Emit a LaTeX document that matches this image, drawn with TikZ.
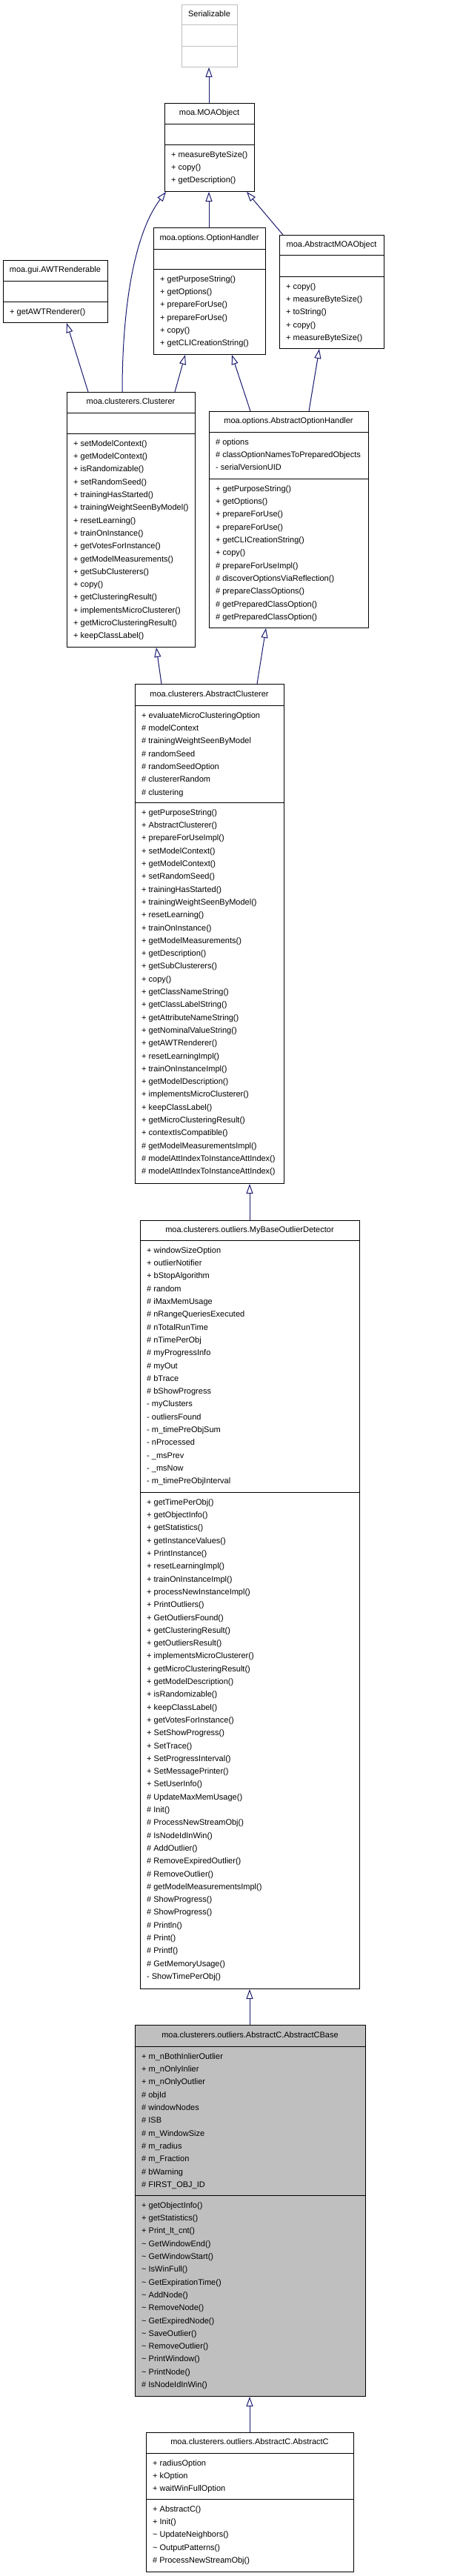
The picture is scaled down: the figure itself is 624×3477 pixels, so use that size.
\documentclass[tikz,border=0pt]{standalone}
\usepackage{fontspec}
\setmainfont{Liberation Sans}
\usetikzlibrary{arrows.meta}
\definecolor{arrowblue}{HTML}{191970}
\definecolor{sergray}{HTML}{BFBFBF}
\definecolor{cbasegray}{HTML}{BFBFBF}
\tikzset{
  classbox/.style={draw=black, line width=1pt, inner sep=0pt, fill=white},
  titletext/.style={font=\fontsize{11}{13}\selectfont, inner sep=0pt, text height=8pt, text depth=2.5pt},
  listtext/.style={font=\fontsize{11}{17.3}\selectfont, inner sep=0pt, align=left, anchor=north west},
  inh/.style={draw=arrowblue, line width=1pt, -{Triangle[open, fill=white, length=13pt, width=9pt]}},
}
\newcommand\umlclass[9]{%
  \node[classbox,#8,minimum width={(#4-#2)*1pt},minimum height={(#5-#3)*1pt},anchor=north west] (#1) at (#2,#3) {};
  \draw[line width=1pt,#8,fill=none] (#2,#6) -- (#4,#6) (#2,#7) -- (#4,#7);
  \node[titletext] at ({(#2+#4)/2},{(#3+#6)/2}) {#9};
}
\newcommand\umllist[3]{\node[listtext] at ({#1+9},{#2+5}) {\strut #3};}
\begin{document}
\begin{tikzpicture}[x=1pt,y=-1pt]
\useasboundingbox (0,0) rectangle (624,3477);

\umlclass{serial}{245}{6}{320}{90}{33}{62}{draw=sergray}{Serializable}

\umlclass{moaobj}{222}{139}{343}{258}{167}{195}{}{moa.MOAObject}
\umllist{222}{195}{+ measureByteSize()\\+ copy()\\+ getDescription()}

\umlclass{opthandler}{207}{307}{358}{478}{336}{363}{}{moa.options.OptionHandler}
\umllist{207}{363}{+ getPurposeString()\\+ getOptions()\\+ prepareForUse()\\+ prepareForUse()\\+ copy()\\+ getCLICreationString()}

\umlclass{absmoa}{377}{317}{518}{470}{344}{373}{}{moa.AbstractMOAObject}
\umllist{377}{373}{+ copy()\\+ measureByteSize()\\+ toString()\\+ copy()\\+ measureByteSize()}

\umlclass{awt}{4}{351}{145}{435}{379}{407}{}{moa.gui.AWTRenderable}
\umllist{4}{407}{+ getAWTRenderer()}

\umlclass{clusterer}{90}{529}{263}{873}{557}{585}{}{moa.clusterers.Clusterer}
\umllist{90}{585}{+ setModelContext()\\+ getModelContext()\\+ isRandomizable()\\+ setRandomSeed()\\+ trainingHasStarted()\\+ trainingWeightSeenByModel()\\+ resetLearning()\\+ trainOnInstance()\\+ getVotesForInstance()\\+ getModelMeasurements()\\+ getSubClusterers()\\+ copy()\\+ getClusteringResult()\\+ implementsMicroClusterer()\\+ getMicroClusteringResult()\\+ keepClassLabel()}

\umlclass{aoh}{282}{555}{497}{847}{583}{646}{}{moa.options.AbstractOptionHandler}
\umllist{282}{583}{\# options\\\# classOptionNamesToPreparedObjects\\- serialVersionUID}
\umllist{282}{646}{+ getPurposeString()\\+ getOptions()\\+ prepareForUse()\\+ prepareForUse()\\+ getCLICreationString()\\+ copy()\\\# prepareForUseImpl()\\\# discoverOptionsViaReflection()\\\# prepareClassOptions()\\\# getPreparedClassOption()\\\# getPreparedClassOption()}

\umlclass{absclus}{182}{923}{383}{1597}{952}{1083}{}{moa.clusterers.AbstractClusterer}
\umllist{182}{952}{+ evaluateMicroClusteringOption\\\# modelContext\\\# trainingWeightSeenByModel\\\# randomSeed\\\# randomSeedOption\\\# clustererRandom\\\# clustering}
\umllist{182}{1083}{+ getPurposeString()\\+ AbstractClusterer()\\+ prepareForUseImpl()\\+ setModelContext()\\+ getModelContext()\\+ setRandomSeed()\\+ trainingHasStarted()\\+ trainingWeightSeenByModel()\\+ resetLearning()\\+ trainOnInstance()\\+ getModelMeasurements()\\+ getDescription()\\+ getSubClusterers()\\+ copy()\\+ getClassNameString()\\+ getClassLabelString()\\+ getAttributeNameString()\\+ getNominalValueString()\\+ getAWTRenderer()\\+ resetLearningImpl()\\+ trainOnInstanceImpl()\\+ getModelDescription()\\+ implementsMicroClusterer()\\+ keepClassLabel()\\+ getMicroClusteringResult()\\+ contextIsCompatible()\\\# getModelMeasurementsImpl()\\\# modelAttIndexToInstanceAttIndex()\\\# modelAttIndexToInstanceAttIndex()}

\umlclass{mybase}{189}{1647}{485}{2684}{1674}{2014}{}{moa.clusterers.outliers.MyBaseOutlierDetector}
\umllist{189}{1674}{+ windowSizeOption\\+ outlierNotifier\\+ bStopAlgorithm\\\# random\\\# iMaxMemUsage\\\# nRangeQueriesExecuted\\\# nTotalRunTime\\\# nTimePerObj\\\# myProgressInfo\\\# myOut\\\# bTrace\\\# bShowProgress\\- myClusters\\- outliersFound\\- m\_timePreObjSum\\- nProcessed\\- \_msPrev\\- \_msNow\\- m\_timePreObjInterval}
\umllist{189}{2014}{+ getTimePerObj()\\+ getObjectInfo()\\+ getStatistics()\\+ getInstanceValues()\\+ PrintInstance()\\+ resetLearningImpl()\\+ trainOnInstanceImpl()\\+ processNewInstanceImpl()\\+ PrintOutliers()\\+ GetOutliersFound()\\+ getClusteringResult()\\+ getOutliersResult()\\+ implementsMicroClusterer()\\+ getMicroClusteringResult()\\+ getModelDescription()\\+ isRandomizable()\\+ keepClassLabel()\\+ getVotesForInstance()\\+ SetShowProgress()\\+ SetTrace()\\+ SetProgressInterval()\\+ SetMessagePrinter()\\+ SetUserInfo()\\\# UpdateMaxMemUsage()\\\# Init()\\\# ProcessNewStreamObj()\\\# IsNodeIdInWin()\\\# AddOutlier()\\\# RemoveExpiredOutlier()\\\# RemoveOutlier()\\\# getModelMeasurementsImpl()\\\# ShowProgress()\\\# ShowProgress()\\\# Println()\\\# Print()\\\# Printf()\\\# GetMemoryUsage()\\- ShowTimePerObj()}

\umlclass{cbase}{182}{2733}{493}{3234}{2762}{2963}{fill=cbasegray}{moa.clusterers.outliers.AbstractC.AbstractCBase}
\umllist{182}{2762}{+ m\_nBothInlierOutlier\\+ m\_nOnlyInlier\\+ m\_nOnlyOutlier\\\# objId\\\# windowNodes\\\# ISB\\\# m\_WindowSize\\\# m\_radius\\\# m\_Fraction\\\# bWarning\\\# FIRST\_OBJ\_ID}
\umllist{182}{2963}{+ getObjectInfo()\\+ getStatistics()\\+ Print\_lt\_cnt()\\\textasciitilde{} GetWindowEnd()\\\textasciitilde{} GetWindowStart()\\\textasciitilde{} IsWinFull()\\\textasciitilde{} GetExpirationTime()\\\textasciitilde{} AddNode()\\\textasciitilde{} RemoveNode()\\\textasciitilde{} GetExpiredNode()\\\textasciitilde{} SaveOutlier()\\\textasciitilde{} RemoveOutlier()\\\textasciitilde{} PrintWindow()\\\textasciitilde{} PrintNode()\\\# IsNodeIdInWin()}

\umlclass{absc}{197}{3283}{477}{3471}{3311}{3373}{}{moa.clusterers.outliers.AbstractC.AbstractC}
\umllist{197}{3311}{+ radiusOption\\+ kOption\\+ waitWinFullOption}
\umllist{197}{3373}{+ AbstractC()\\+ Init()\\\textasciitilde{} UpdateNeighbors()\\\textasciitilde{} OutputPatterns()\\\# ProcessNewStreamObj()}

% inheritance connectors
\draw[inh] ([xshift=60pt]moaobj.north west) -- ([xshift=37pt]serial.south west);
\draw[inh] ([xshift=75pt]opthandler.north west) -- ([xshift=60pt]moaobj.south west);
\draw[inh] ([xshift=5pt]absmoa.north west) -- ([xshift=111pt]moaobj.south west);
\draw[inh] ([xshift=75pt]clusterer.north west) .. controls (165,400) and (185,310) .. ([xshift=2pt]moaobj.south west);
\draw[inh] ([xshift=29pt]clusterer.north west) -- ([xshift=86pt]awt.south west);
\draw[inh] ([xshift=146pt]clusterer.north west) -- ([xshift=43pt]opthandler.south west);
\draw[inh] ([xshift=56pt]aoh.north west) -- ([xshift=106pt]opthandler.south west);
\draw[inh] ([xshift=135pt]aoh.north west) -- ([xshift=54pt]absmoa.south west);
\draw[inh] ([xshift=36pt]absclus.north west) -- ([xshift=121pt]clusterer.south west);
\draw[inh] ([xshift=165pt]absclus.north west) -- ([xshift=77pt]aoh.south west);
\draw[inh] ([xshift=148pt]mybase.north west) -- ([xshift=155pt]absclus.south west);
\draw[inh] ([xshift=155pt]cbase.north west) -- ([xshift=148pt]mybase.south west);
\draw[inh] ([xshift=140pt]absc.north west) -- ([xshift=155pt]cbase.south west);
\end{tikzpicture}
\end{document}
